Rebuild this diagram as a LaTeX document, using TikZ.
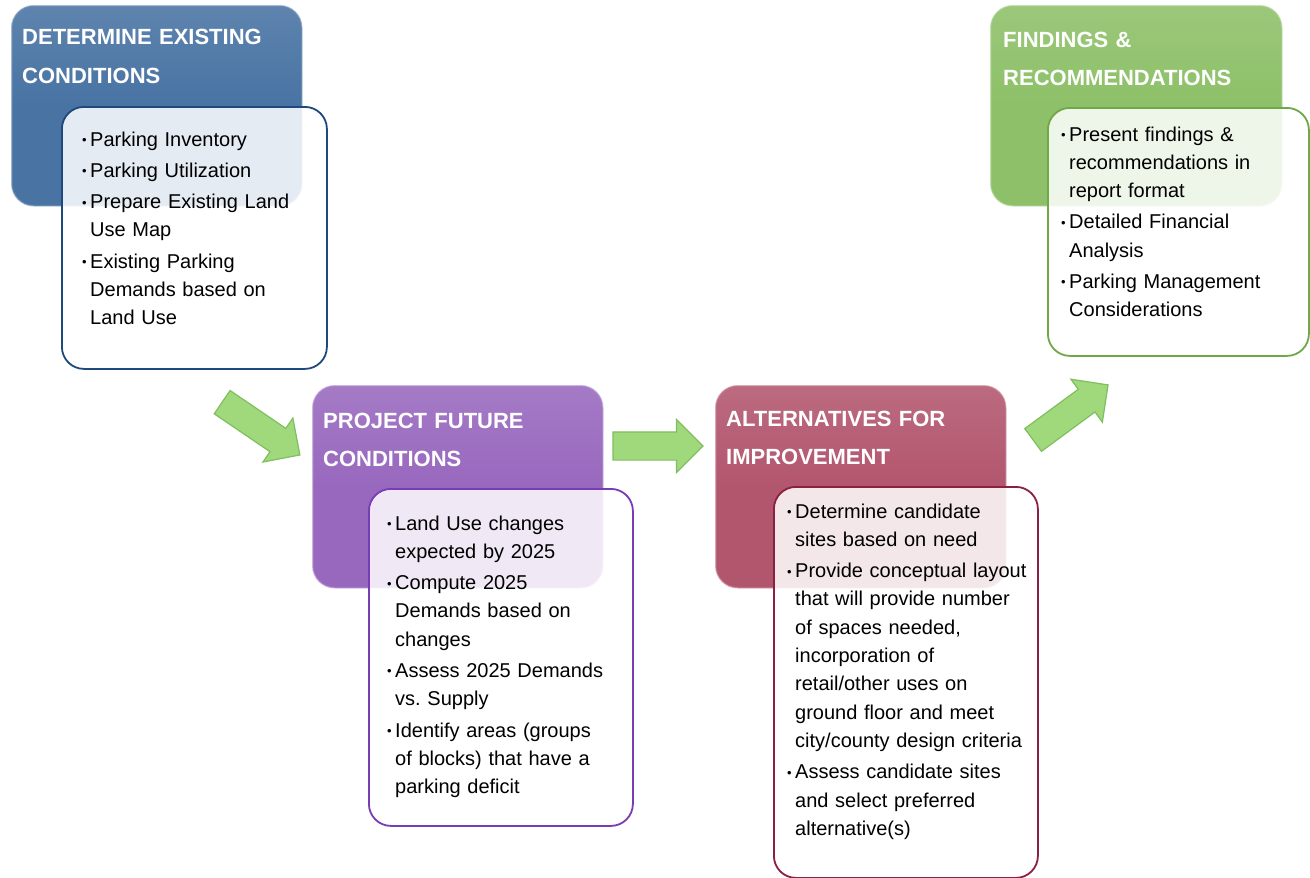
\documentclass[tikz,border=0pt]{standalone}
\usepackage{fontspec}
\setmainfont{Liberation Sans}
\usetikzlibrary{shapes.arrows}
\definecolor{hblue}{RGB}{72,115,163}
\definecolor{hpurple}{RGB}{152,104,190}
\definecolor{hpink}{RGB}{178,86,110}
\definecolor{hgreen}{RGB}{141,192,104}
\definecolor{bblue}{RGB}{31,73,125}
\definecolor{bpurple}{RGB}{120,60,180}
\definecolor{bpink}{RGB}{140,32,64}
\definecolor{bgreen}{RGB}{112,168,72}
\definecolor{afill}{RGB}{160,216,124}
\definecolor{adraw}{RGB}{128,190,96}
\newcommand{\bu}{\makebox[8pt][l]{\raisebox{1.6pt}{\fontsize{13}{13}\selectfont •}}}
\newcommand{\ci}{\hspace*{8pt}}
\tikzset{
  hdr/.style={rectangle, rounded corners=22pt, anchor=north west, inner sep=0pt,
    draw=#1!75!white, draw opacity=0.6, line width=1.5pt,
    top color=#1!88!white, bottom color=#1, middle color=#1},
  wbox/.style={rectangle, rounded corners=22pt, anchor=north west, inner sep=0pt,
    draw=#1, line width=1.8pt, fill=white, fill opacity=0.86},
  htxt/.style={anchor=base west, inner sep=0pt, text width=295pt, align=left,
    text=white, font=\bfseries\fontsize{22}{38.5}\selectfont},
  btxt/.style={anchor=base west, inner sep=0pt, text width=290pt, align=left,
    text=black, font=\fontsize{20}{28.3}\selectfont},
  garrow/.style={single arrow, inner xsep=0pt, inner ysep=13.5pt, outer sep=0pt,
    single arrow head extend=12.5pt, single arrow tip angle=90,
    single arrow head indent=0pt, fill=afill, draw=adraw, line width=1.2pt}
}
\begin{document}
\begin{tikzpicture}[x=1pt,y=-1pt]
\useasboundingbox (0,0) rectangle (1310,878);
% headers
\node[hdr=hblue, minimum width=290pt, minimum height=200pt] (h1) at (11,5) {};
\node[hdr=hpurple, minimum width=290pt, minimum height=202pt] (h2) at (312,385) {};
\node[hdr=hpink, minimum width=290pt, minimum height=202pt] (h3) at (715,385) {};
\node[hdr=hgreen, minimum width=291pt, minimum height=200pt] (h4) at (990,5) {};
% header texts
\node[htxt] (t1) at (22,45) {DETERMINE EXISTING\\CONDITIONS};
\node[htxt] (t2) at (323,428) {PROJECT FUTURE\\CONDITIONS};
\node[htxt] (t3) at (726,426) {ALTERNATIVES FOR\\IMPROVEMENT};
\node[htxt] (t4) at (1003,47) {FINDINGS \&\\RECOMMENDATIONS};
% white boxes
\node[wbox=bblue, minimum width=265pt, minimum height=262pt] (b1) at (61,106) {};
\node[wbox=bpurple, minimum width=264pt, minimum height=337pt] (b2) at (368,488) {};
\node[wbox=bpink, minimum width=264pt, minimum height=391pt] (b3) at (773,486) {};
\node[wbox=bgreen, minimum width=261pt, minimum height=248pt] (b4) at (1047,107) {};
% body texts
\node[btxt] (l1) at (82,146) {\bu Parking Inventory\\[3pt]
\bu Parking Utilization\\[3pt]
\bu Prepare Existing Land\\ \ci Use Map\\[3pt]
\bu Existing Parking\\ \ci Demands based on\\ \ci Land Use};
\node[btxt] (l2) at (387,530) {\bu Land Use changes\\ \ci expected by 2025\\[3pt]
\bu Compute 2025\\ \ci Demands based on\\ \ci changes\\[3pt]
\bu Assess 2025 Demands\\ \ci vs.\ Supply\\[3pt]
\bu Identify areas (groups\\ \ci of blocks) that have a\\ \ci parking deficit};
\node[btxt] (l3) at (787,518) {\bu Determine candidate\\ \ci sites based on need\\[3pt]
\bu Provide conceptual layout\\ \ci that will provide number\\ \ci of spaces needed,\\ \ci incorporation of\\ \ci retail/other uses on\\ \ci ground floor and meet\\ \ci city/county design criteria\\[3pt]
\bu Assess candidate sites\\ \ci and select preferred\\ \ci alternative(s)};
\node[btxt] (l4) at (1061,141) {\bu Present findings \&\\ \ci recommendations in\\ \ci report format\\[3pt]
\bu Detailed Financial\\ \ci Analysis\\[3pt]
\bu Parking Management\\ \ci Considerations};
% arrows
\node[garrow, minimum height=94pt, rotate=-34.2] (a1) at (255.2,424.6) {};
\node[garrow, minimum height=90pt] (a2) at (651,446) {};
\node[garrow, minimum height=93pt, rotate=36.3] (a3) at (1064.9,416.6) {};
\end{tikzpicture}
\end{document}
